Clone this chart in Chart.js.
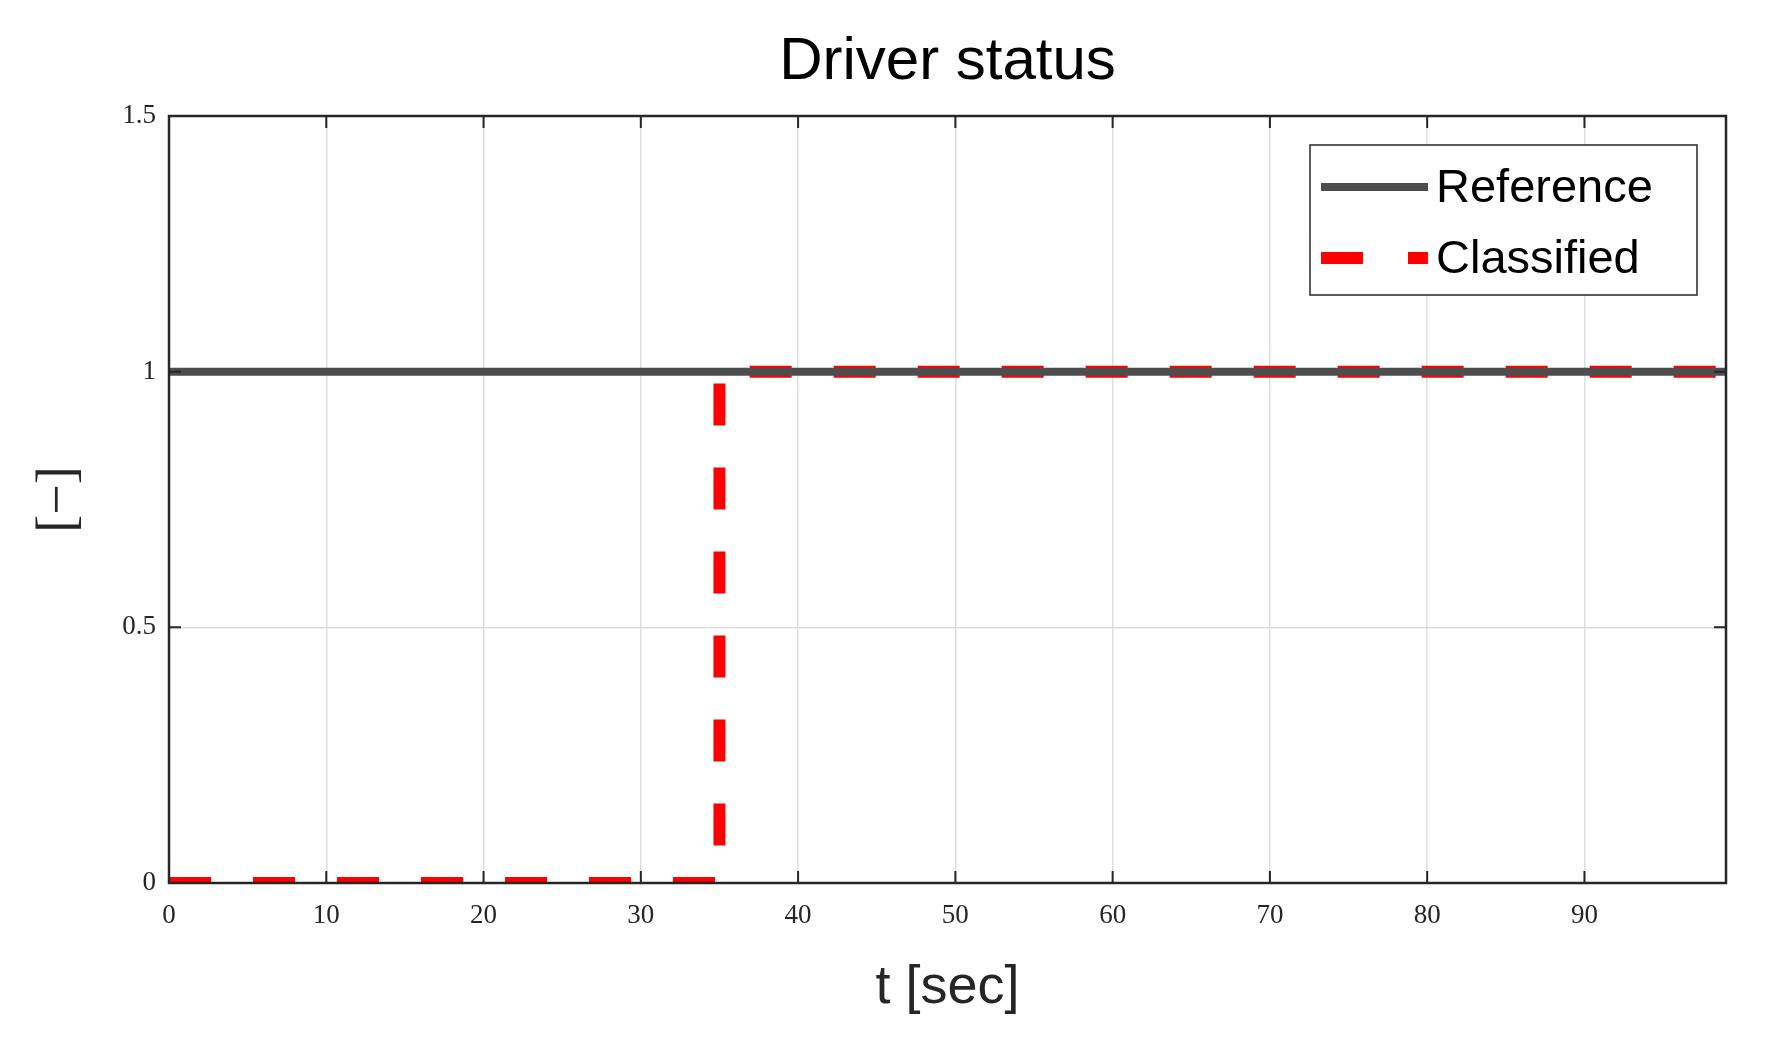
<!DOCTYPE html>
<html><head><meta charset="utf-8">
<script src="https://cdn.jsdelivr.net/npm/chart.js@4"></script>
<style>html,body{margin:0;padding:0;background:#fff}#w{width:1768px;height:1043px}</style>
</head><body><div id="w"><canvas id="c"></canvas></div>
<script>
const refT = [0, 99];
const refV = [1, 1];
const clsT = [0, 35, 35, 99];
const clsV = [0, 0, 1, 1];
const xTicks = [0,10,20,30,40,50,60,70,80,90];
const yTicks = [0,0.5,1,1.5];
const title = 'Driver status';
const xLabel = 't [sec]';
const yLabel = '[\u2212]';
const names = ['Reference','Classified'];

const L=169,R=1726,T=116,B=883;
const deco = {
  id:'deco',
  afterDraw(ch){
    const c=ch.ctx, x=ch.scales.x, y=ch.scales.y;
    c.save();
    c.strokeStyle='#262626'; c.lineWidth=2.5;
    c.strokeRect(L,T,R-L,B-T);
    c.lineWidth=2;
    c.beginPath();
    xTicks.forEach(v=>{const p=x.getPixelForValue(v);c.moveTo(p,B);c.lineTo(p,B-12);c.moveTo(p,T);c.lineTo(p,T+12);});
    yTicks.forEach(v=>{const p=y.getPixelForValue(v);c.moveTo(L,p);c.lineTo(L+12,p);c.moveTo(R,p);c.lineTo(R-12,p);});
    c.stroke();
    c.fillStyle='#262626';
    c.font='27px "Liberation Serif", "DejaVu Serif", serif';
    c.textAlign='center'; c.textBaseline='middle';
    xTicks.forEach(v=>c.fillText(String(v),x.getPixelForValue(v),916));
    c.textAlign='right';
    yTicks.forEach(v=>c.fillText(String(v),156,y.getPixelForValue(v)));
    c.fillStyle='#000';
    c.textAlign='center';
    c.font='60px "Liberation Sans", Arial, sans-serif';
    c.fillText(title,(L+R)/2,62);
    c.fillStyle='#262626';
    c.font='54px "Liberation Sans", Arial, sans-serif';
    c.fillText(xLabel,(L+R)/2,988);
    c.save(); c.translate(60,(T+B)/2); c.rotate(-Math.PI/2);
    c.font='54px "Liberation Serif", serif';
    c.fillText(yLabel,0,0); c.restore();
    // legend
    c.fillStyle='#fff'; c.fillRect(1310,145,387,150);
    c.strokeStyle='#262626'; c.lineWidth=1.5; c.strokeRect(1310,145,387,150);
    c.lineWidth=8; c.strokeStyle='#4d4d4d';
    c.beginPath(); c.moveTo(1321,187); c.lineTo(1428,187); c.stroke();
    c.lineWidth=12; c.strokeStyle='#ff0000'; c.setLineDash([42,45]);
    c.beginPath(); c.moveTo(1321,258); c.lineTo(1428,258); c.stroke();
    c.setLineDash([]);
    c.fillStyle='#000'; c.textAlign='left';
    c.font='47px "Liberation Sans", Arial, sans-serif';
    c.fillText(names[0],1436,189);
    c.fillText(names[1],1436,260);
    c.restore();
  }
};
new Chart(document.getElementById('c'),{
  type:'line',
  data:{datasets:[
    {label:names[0],data:refT.map((t,i)=>({x:t,y:refV[i]})),borderColor:'#4d4d4d',borderWidth:8,pointRadius:0,tension:0},
    {label:names[1],data:clsT.map((t,i)=>({x:t,y:clsV[i]})),borderColor:'#ff0000',borderWidth:12,borderDash:[42,42],pointRadius:0,tension:0}
  ]},
  options:{
    responsive:true,maintainAspectRatio:false,animation:false,
    layout:{padding:{left:0,right:1768-R,top:T,bottom:0}},
    plugins:{legend:{display:false},tooltip:{enabled:false}},
    scales:{
      x:{type:'linear',min:0,max:99,afterFit(s){s.height=1043-B;},
        afterBuildTicks(s){s.ticks=xTicks.map(v=>({value:v}));},
        ticks:{display:false},grid:{color:'#dedede',lineWidth:1.5,drawTicks:false},border:{display:false}},
      y:{min:0,max:1.5,afterFit(s){s.width=L;},
        afterBuildTicks(s){s.ticks=yTicks.map(v=>({value:v}));},
        ticks:{display:false},grid:{color:'#dedede',lineWidth:1.5,drawTicks:false},border:{display:false}}
    }
  },
  plugins:[deco]
});
</script></body></html>
